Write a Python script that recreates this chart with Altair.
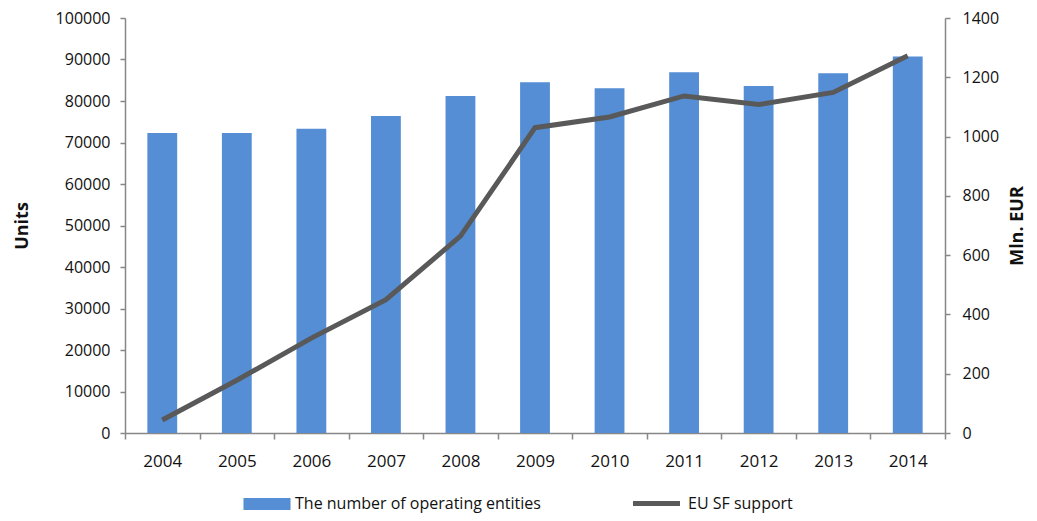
import altair as alt
import pandas as pd

years = ["2004", "2005", "2006", "2007", "2008", "2009", "2010", "2011", "2012", "2013", "2014"]
entities = [72300, 72300, 73300, 76400, 81200, 84500, 83100, 86900, 83600, 86700, 90700]
support = [44, 178, 320, 450, 664, 1030, 1066, 1137, 1108, 1149, 1273]

bar_name = "The number of operating entities"
line_name = "EU SF support"

df = pd.DataFrame({"year": years, "entities": entities, "support": support,
                   "bs": [bar_name] * len(years), "ls": [line_name] * len(years)})

FONT = "Open Sans"
AXIS_COLOR = "#878787"
TXT = "#111111"

x = alt.X("year:N", title=None, sort=years,
          scale=alt.Scale(paddingInner=0, paddingOuter=0),
          axis=alt.Axis(labelAngle=0, tickBand="extent", tickSize=6, labelPadding=14,
                        domainColor=AXIS_COLOR, tickColor=AXIS_COLOR, domainWidth=1.5, tickWidth=1.5,
                        labelFont=FONT, labelFontSize=17, labelColor=TXT, grid=False))

bars = alt.Chart(df).mark_bar(color="#558ED5", width=alt.RelativeBandSize(0.4)).encode(
    x=x,
    y=alt.Y("entities:Q", title="Units",
            scale=alt.Scale(domain=[0, 100000], nice=False),
            axis=alt.Axis(values=list(range(0, 100001, 10000)), format="d", grid=False,
                          tickSize=5, labelPadding=10, domainColor=AXIS_COLOR, tickColor=AXIS_COLOR,
                          domainWidth=1.5, tickWidth=1.5,
                          labelFont=FONT, labelFontSize=16, labelColor=TXT,
                          titleFont=FONT, titleFontSize=18, titleFontWeight="bold",
                          titleColor=TXT, titlePadding=24)),
    color=alt.Color("bs:N", scale=alt.Scale(domain=[bar_name], range=["#558ED5"]),
                    legend=alt.Legend(title=None, orient="none", legendX=127, legendY=471,
                                      symbolType="M-1.6,-0.4H1.6V0.4H-1.6Z", symbolSize=864,
                                      labelFont=FONT, labelFontSize=16, labelColor=TXT,
                                      labelOffset=13, labelLimit=400, symbolStrokeWidth=0)),
)

line = alt.Chart(df).mark_line(color="#595959", strokeWidth=5).encode(
    x=x,
    y=alt.Y("support:Q", title="Mln. EUR",
            scale=alt.Scale(domain=[0, 1400], nice=False),
            axis=alt.Axis(orient="right", values=list(range(0, 1401, 200)), format="d", grid=False,
                          tickSize=5, labelPadding=12, domainColor=AXIS_COLOR, tickColor=AXIS_COLOR,
                          domainWidth=1.5, tickWidth=1.5,
                          labelFont=FONT, labelFontSize=16, labelColor=TXT,
                          titleFont=FONT, titleFontSize=18, titleFontWeight="bold",
                          titleColor=TXT, titlePadding=28, titleAngle=270)),
    color=alt.Color("ls:N", scale=alt.Scale(domain=[line_name], range=["#595959"]),
                    legend=alt.Legend(title=None, orient="none", legendX=514, legendY=468,
                                      symbolType="M-1.6,0H1.6", symbolSize=864, symbolStrokeWidth=5,
                                      labelFont=FONT, labelFontSize=16, labelColor=TXT,
                                      labelOffset=14, labelLimit=400)),
)

chart = alt.layer(bars, line).resolve_scale(
    y="independent", color="independent"
).resolve_legend(color="independent").properties(
    width=820, height=415,
    padding={"left": 117, "top": 10, "right": 84, "bottom": 80},
    autosize=alt.AutoSizeParams(type="none"),
).configure_view(stroke=None)

chart.save("out.html", embed_options={"renderer": "svg", "actions": False})
